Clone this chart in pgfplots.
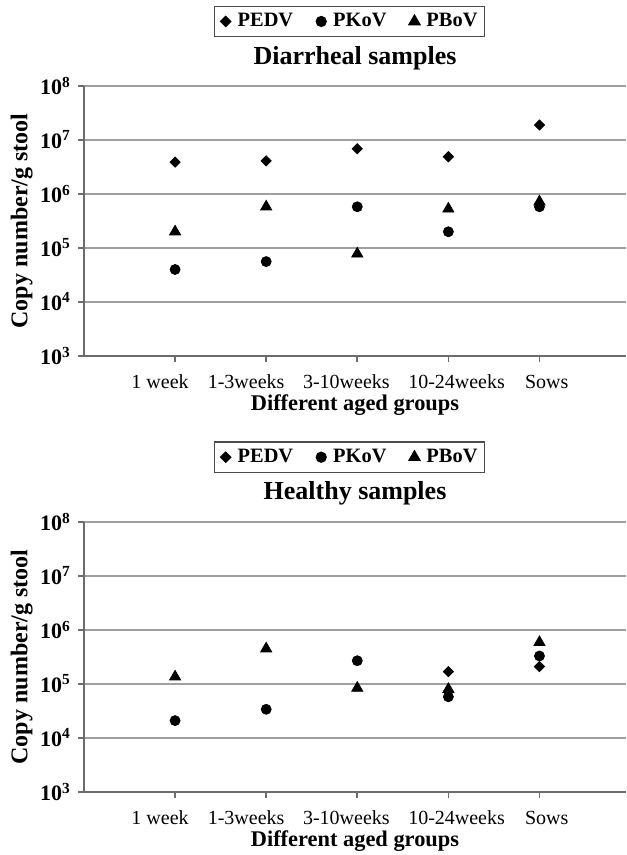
\documentclass[border=0pt]{standalone}
\usepackage{fontspec}
\setmainfont{Liberation Serif}
\usepackage{pgfplots}
\pgfplotsset{compat=1.18}

\pgfplotsset{
  vstyle/.style={
    scale only axis, width=271pt, height=135pt,
    xmin=0, xmax=5.95,
    ymin=1e3, ymax=1e8,
    ytick={1e3,1e4,1e5,1e6,1e7,1e8},
    yticklabels={\textbf{10\textsuperscript{3}},\textbf{10\textsuperscript{4}},\textbf{10\textsuperscript{5}},\textbf{10\textsuperscript{6}},\textbf{10\textsuperscript{7}},\textbf{10\textsuperscript{8}}},
    yminorticks=false,
    xtick={1,2,3,4,5},
    xticklabels={},
    extra x ticks={0.835,1.78,2.88,4.09,5.08},
    extra x tick labels={1 week,1-3weeks,3-10weeks,10-24weeks,Sows},
    extra x tick style={tick style={draw=none}},
    axis x line*=bottom, axis y line*=left,
    axis line style={draw=gray!85!black, line width=1pt},
    ymajorgrids, grid style={gray!75, line width=1pt},
    tick align=outside, major tick length=3pt,
    tick style={draw=gray!85!black, line width=0.8pt},
    xticklabel style={font=\fontsize{10}{11}\selectfont, yshift=-3pt},
    yticklabel style={font=\fontsize{11}{12}\selectfont},
    xlabel={Different aged groups},
    ylabel={Copy number/g stool},
    xlabel style={font=\bfseries\fontsize{11.2}{13}\selectfont, at={(axis description cs:0.5,-0.181)}, anchor=center},
    ylabel style={font=\bfseries\fontsize{12}{14}\selectfont, at={(axis description cs:-0.115,0.5)}, anchor=center},
    legend columns=3,
    legend image code/.code={\path[draw=none,fill=none] (-4pt,0pt) (4pt,0pt); \draw[##1] plot coordinates {(0pt,0pt)};},
    legend style={anchor=center, draw=gray!60!black, line width=0.6pt,
      font=\bfseries\fontsize{10.2}{12}\selectfont, inner sep=1.5pt,
      /tikz/every even column/.append style={column sep=8pt}},
  },
  pedv/.style={only marks, mark=square*, mark size=1.8pt, mark options={rotate=45, fill=black, draw=black}},
  pkov/.style={only marks, mark=*, mark size=2.5pt, mark options={fill=black, draw=black}},
  pbov/.style={only marks, mark=triangle*, mark size=3.2pt, mark options={fill=black, draw=black}},
}

\begin{document}
\begin{tikzpicture}
\useasboundingbox (0,0) rectangle (313pt,-427.5pt);

\begin{semilogyaxis}[vstyle, at={(42pt,-178pt)}, anchor=south west,
  legend style={at={(axis description cs:0.49,1.239)}},
  extra description/.code={\node[font=\bfseries\fontsize{13}{15}\selectfont, anchor=center] at (0.5,1.104) {Diarrheal samples};}]
\addplot[pedv] coordinates {(1,3.9e6) (2,4.1e6) (3,6.9e6) (4,4.9e6) (5,1.9e7)};
\addlegendentry{PEDV}
\addplot[pkov] coordinates {(1,4.0e4) (2,5.6e4) (3,5.8e5) (4,2.0e5) (5,5.8e5)};
\addlegendentry{PKoV}
\addplot[pbov] coordinates {(1,2.0e5) (2,5.8e5) (3,7.8e4) (4,5.3e5) (5,7.2e5)};
\addlegendentry{PBoV}
\end{semilogyaxis}

\begin{semilogyaxis}[vstyle, at={(42pt,-396pt)}, anchor=south west,
  legend style={at={(axis description cs:0.49,1.24)}},
  extra description/.code={\node[font=\bfseries\fontsize{13}{15}\selectfont, anchor=center] at (0.5,1.107) {Healthy samples};}]
\addplot[pedv] coordinates {(4,1.7e5) (5,2.1e5)};
\addlegendentry{PEDV}
\addplot[pkov] coordinates {(1,2.1e4) (2,3.4e4) (3,2.7e5) (4,5.8e4) (5,3.3e5)};
\addlegendentry{PKoV}
\addplot[pbov] coordinates {(1,1.36e5) (2,4.5e5) (3,8.4e4) (4,8.0e4) (5,5.9e5)};
\addlegendentry{PBoV}
\end{semilogyaxis}
\end{tikzpicture}
\end{document}
